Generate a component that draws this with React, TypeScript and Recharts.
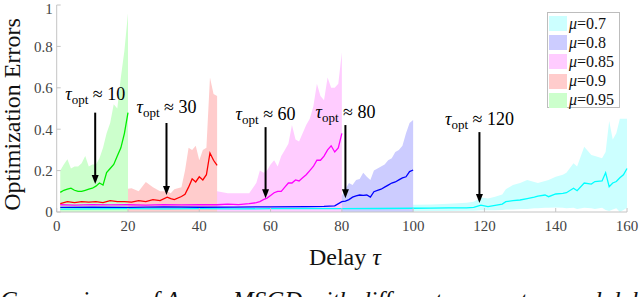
import { ComposedChart, Area, Line, XAxis, YAxis, ReferenceLine, ReferenceDot, Label } from "recharts"

const FONT = "'Liberation Serif', 'DejaVu Serif', serif"

// mu = 0.95
const tau95 = [1, 2, 3, 4, 5, 6, 7, 8, 9, 10, 11, 12, 13, 14, 15, 16, 17, 18, 19, 20]
const mean95 = [0.095, 0.105, 0.11, 0.115, 0.105, 0.1, 0.1, 0.105, 0.11, 0.115, 0.125, 0.14, 0.13, 0.19, 0.21, 0.23, 0.27, 0.31, 0.38, 0.48]
const hi95 = [0.2, 0.23, 0.255, 0.21, 0.22, 0.22, 0.235, 0.27, 0.22, 0.23, 0.23, 0.26, 0.31, 0.38, 0.43, 0.52, 0.5, 0.65, 0.78, 0.96]

// mu = 0.9
const tau90 = [1, 3, 5, 7, 9, 11, 13, 15, 17, 19, 21, 23, 25, 27, 29, 31, 32, 33, 35, 36, 37, 38, 39, 40, 41, 42, 43, 44, 45]
const mean90 = [0.04, 0.05, 0.045, 0.05, 0.048, 0.05, 0.045, 0.055, 0.05, 0.05, 0.048, 0.055, 0.05, 0.06, 0.055, 0.072, 0.065, 0.06, 0.075, 0.085, 0.12, 0.16, 0.145, 0.17, 0.155, 0.18, 0.285, 0.25, 0.225]
const hi90 = [0.1, 0.11, 0.1, 0.12, 0.1, 0.11, 0.1, 0.12, 0.1, 0.11, 0.115, 0.1, 0.145, 0.12, 0.1, 0.1, 0.09, 0.11, 0.12, 0.2, 0.31, 0.3, 0.32, 0.25, 0.3, 0.31, 0.65, 0.57, 0.56]

// mu = 0.85
const tau85 = [1, 5, 10, 15, 20, 25, 30, 35, 40, 45, 48, 51, 54, 56, 57, 58, 59, 60, 61, 62, 63, 64, 65, 66, 67, 68, 69, 70, 71, 72, 73, 74, 75, 76, 77, 78, 79, 80]
const mean85 = [0.035, 0.033, 0.036, 0.034, 0.035, 0.033, 0.036, 0.034, 0.036, 0.035, 0.038, 0.036, 0.04, 0.045, 0.05, 0.06, 0.067, 0.08, 0.093, 0.1, 0.1, 0.12, 0.14, 0.14, 0.155, 0.15, 0.165, 0.18, 0.2, 0.22, 0.25, 0.25, 0.27, 0.3, 0.32, 0.29, 0.31, 0.38]
const hi85 = [0.07, 0.065, 0.07, 0.068, 0.07, 0.07, 0.068, 0.07, 0.07, 0.1, 0.09, 0.09, 0.09, 0.14, 0.2, 0.19, 0.2, 0.23, 0.25, 0.22, 0.27, 0.3, 0.33, 0.42, 0.35, 0.34, 0.38, 0.42, 0.45, 0.51, 0.62, 0.56, 0.54, 0.65, 0.6, 0.6, 0.62, 0.77]

// mu = 0.8
const tau80 = [1, 10, 20, 30, 40, 50, 60, 70, 75, 78, 80, 81, 82, 83, 84, 85, 86, 87, 88, 89, 90, 91, 92, 93, 94, 95, 96, 97, 98, 99, 100]
const mean80 = [0.022, 0.024, 0.022, 0.025, 0.023, 0.024, 0.025, 0.026, 0.027, 0.03, 0.05, 0.053, 0.06, 0.072, 0.078, 0.082, 0.08, 0.082, 0.072, 0.098, 0.104, 0.11, 0.12, 0.13, 0.14, 0.145, 0.155, 0.165, 0.17, 0.195, 0.203]
const hi80 = [0.04, 0.04, 0.04, 0.04, 0.04, 0.04, 0.04, 0.04, 0.04, 0.045, 0.08, 0.11, 0.14, 0.13, 0.155, 0.16, 0.19, 0.17, 0.155, 0.2, 0.21, 0.22, 0.23, 0.25, 0.26, 0.29, 0.3, 0.32, 0.38, 0.43, 0.445]

// mu = 0.7
const tau70 = [1, 10, 20, 30, 40, 50, 60, 70, 80, 90, 100, 105, 110, 115, 117, 119, 121, 123, 125, 126, 128, 130, 132, 134, 135, 137, 138, 140, 142, 143, 145, 146, 148, 150, 151, 153, 154, 155, 156, 157, 158, 159, 160]
const mean70 = [0.014, 0.015, 0.016, 0.015, 0.016, 0.015, 0.016, 0.017, 0.016, 0.017, 0.018, 0.019, 0.02, 0.02, 0.022, 0.033, 0.026, 0.032, 0.038, 0.05, 0.055, 0.058, 0.065, 0.072, 0.077, 0.082, 0.074, 0.087, 0.09, 0.093, 0.115, 0.103, 0.14, 0.135, 0.147, 0.15, 0.19, 0.122, 0.14, 0.147, 0.165, 0.18, 0.21]
const hi70 = [0.03, 0.03, 0.03, 0.03, 0.03, 0.03, 0.03, 0.03, 0.03, 0.032, 0.035, 0.036, 0.04, 0.045, 0.05, 0.07, 0.065, 0.074, 0.085, 0.11, 0.13, 0.14, 0.155, 0.145, 0.14, 0.15, 0.155, 0.17, 0.18, 0.19, 0.235, 0.22, 0.315, 0.275, 0.27, 0.26, 0.29, 0.44, 0.35, 0.38, 0.45, 0.45, 0.45]
const lo70 = [0.004, 0.004, 0.004, 0.004, 0.004, 0.004, 0.004, 0.004, 0.004, 0.004, 0.004, 0.005, 0.005, 0.006, 0.006, 0.008, 0.008, 0.008, 0.01, 0.012, 0.012, 0.015, 0.015, 0.018, 0.018, 0.02, 0.02, 0.022, 0.02, 0.018, 0.02, 0.015, 0.02, 0.018, 0.015, 0.02, 0.01, 0.005, 0.012, 0.018, 0.0, 0.01, 0.02]

// annotations: arrow x, arrow top, arrow tip, label baseline
const annTau = [10.8, 30.8, 58.6, 81, 118.6]
const annTop = [0.48, 0.43, 0.41, 0.42, 0.386]
const annTip = [0.135, 0.082, 0.067, 0.067, 0.043]
const annLabelY = [0.541, 0.478, 0.444, 0.454, 0.42]
const annText = ["10", "30", "60", "80", "120"]

const xTicks = [0, 20, 40, 60, 80, 100, 120, 140, 160]
const yTicks = [0, 0.2, 0.4, 0.6, 0.8, 1]

const build = (tau: number[], mean: number[], hi: number[], lo?: number[]) =>
  tau.map((t, i) => ({ tau: t, mean: mean[i], hi: hi[i], band: [lo ? lo[i] : 0, hi[i]] }))

const series = [
  { mu: "0.7", line: "#00ffff", fill: "#ccffff", data: build(tau70, mean70, hi70, lo70) },
  { mu: "0.8", line: "#0000ff", fill: "#ccccff", data: build(tau80, mean80, hi80) },
  { mu: "0.85", line: "#ff00ff", fill: "#ffccff", data: build(tau85, mean85, hi85) },
  { mu: "0.9", line: "#ff0000", fill: "#ffcccc", data: build(tau90, mean90, hi90) },
  { mu: "0.95", line: "#00ee00", fill: "#ccffcc", data: build(tau95, mean95, hi95) },
]

const arrowHead = (props: any) => {
  const { cx, cy } = props
  return <polygon points={`${cx},${cy} ${cx - 3.5},${cy - 9} ${cx + 3.5},${cy - 9}`} fill="#000" />
}

const annLabel = (txt: string) => (props: any) => (
  <text x={props.cx} y={props.cy} textAnchor="middle" fontFamily={FONT} fontSize={18} fill="#000">
    <tspan fontStyle="italic">τ</tspan>
    <tspan fontSize={13} dy={4}>opt</tspan>
    <tspan dy={-4}> ≈ {txt}</tspan>
  </text>
)

export default function App() {
  return (
    <div style={{ position: "absolute", left: 0, top: 0, width: 640, height: 297, background: "#fff", overflow: "hidden" }}>
      <ComposedChart width={640} height={270} margin={{ top: 5, right: 13, bottom: 0, left: 0 }}>
        <XAxis
          type="number"
          dataKey="tau"
          domain={[0, 160]}
          ticks={xTicks}
          height={58}
          stroke="#c4c4c4"
          tickSize={-4}
          tickMargin={12}
          tick={{ fill: "#444", fontSize: 15, fontFamily: FONT }}
        >
          <Label
            content={(p: any) => {
              const vb = p.viewBox
              return (
                <text x={vb.x + vb.width / 2 + 3} y={vb.y + 53} textAnchor="middle" fontFamily={FONT} fontSize={24} fill="#111">
                  Delay <tspan fontStyle="italic">τ</tspan>
                </text>
              )
            }}
          />
        </XAxis>
        <YAxis
          type="number"
          domain={[0, 1]}
          ticks={yTicks}
          width={56.7}
          stroke="#c4c4c4"
          tickSize={-4}
          tickMargin={8}
          tick={{ fill: "#444", fontSize: 15, fontFamily: FONT }}
          tickFormatter={(v: number) => String(v)}
        >
          <Label
            content={(p: any) => {
              const vb = p.viewBox
              const cy = vb.y + vb.height / 2 + 6
              return (
                <text transform={`translate(20, ${cy}) rotate(-90)`} textAnchor="middle" fontFamily={FONT} fontSize={24} fill="#111">
                  Optimization Errors
                </text>
              )
            }}
          />
        </YAxis>

        {series.map((s) => (
          <Area
            key={"a" + s.mu}
            data={s.data}
            dataKey={s.mu === "0.7" ? "band" : "hi"}
            type="linear"
            stroke="none"
            fill={s.fill}
            fillOpacity={1}
            isAnimationActive={false}
          />
        ))}
        {series.map((s) => (
          <Line
            key={"l" + s.mu}
            data={s.data}
            dataKey="mean"
            type="linear"
            stroke={s.line}
            strokeWidth={1.3}
            dot={false}
            activeDot={false}
            isAnimationActive={false}
          />
        ))}

        {annTau.map((t, i) => (
          <ReferenceLine
            key={"r" + i}
            segment={[{ x: t, y: annTop[i] }, { x: t, y: annTip[i] + 0.03 }]}
            stroke="#000"
            strokeWidth={2}
          />
        ))}
        {annTau.map((t, i) => (
          <ReferenceDot key={"h" + i} x={t} y={annTip[i]} shape={arrowHead} />
        ))}
        {annTau.map((t, i) => (
          <ReferenceDot key={"t" + i} x={t} y={annLabelY[i]} shape={annLabel(annText[i])} />
        ))}
      </ComposedChart>

      <div
        style={{
          position: "absolute",
          left: 547,
          top: 12,
          width: 73,
          height: 96,
          border: "1px solid #bdbdbd",
          background: "#fff",
          boxSizing: "border-box",
        }}
      >
        {series.map((s, i) => (
          <div key={s.mu} style={{ position: "absolute", left: 1, top: 1 + i * 19.2, height: 19, display: "flex", alignItems: "center" }}>
            <span style={{ display: "inline-block", width: 18, height: 15, background: s.fill }} />
            <span style={{ marginLeft: 2, fontSize: 16, fontFamily: FONT, color: "#111", whiteSpace: "nowrap" }}>
              <i>μ</i>=0.{s.mu.slice(2)}
            </span>
          </div>
        ))}
      </div>

      <div
        style={{
          position: "absolute",
          left: 0,
          top: 288,
          width: 720,
          fontSize: 25,
          lineHeight: "26px",
          fontStyle: "italic",
          fontFamily: FONT,
          color: "#111",
          whiteSpace: "nowrap",
        }}
      >
        Comparisons of Async-MSGD with different momentum and delay
      </div>
    </div>
  )
}
